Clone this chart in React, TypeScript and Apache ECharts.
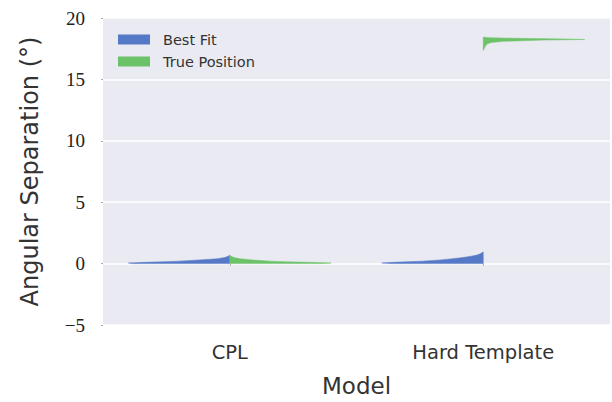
import React, { useEffect, useRef } from "react";
import * as echarts from "echarts";

const categories = ["CPL", "Hard Template"];
const hues = ["Best Fit", "True Position"];
const colors = ["#5579C6", "#6CC268"];

// violin half-profiles: values and normalised density
const cplBestVals = [0, 0.05, 0.1, 0.15, 0.2, 0.3, 0.4, 0.5, 0.55, 0.6, 0.7];
const cplBestDens = [0.95, 1.0, 0.85, 0.65, 0.5, 0.3, 0.12, 0.05, 0.03, 0.015, 0];
const cplTrueVals = [0, 0.05, 0.1, 0.15, 0.2, 0.3, 0.4, 0.5, 0.6, 0.65];
const cplTrueDens = [0.9, 1.0, 0.8, 0.55, 0.4, 0.22, 0.1, 0.04, 0.015, 0];
const htBestVals = [0, 0.05, 0.1, 0.2, 0.3, 0.4, 0.5, 0.6, 0.7, 0.8, 0.9, 0.95];
const htBestDens = [0.9, 1.0, 0.9, 0.6, 0.42, 0.3, 0.2, 0.12, 0.06, 0.03, 0.01, 0];
const htTrueVals = [17.36, 17.5, 17.7, 17.9, 18.0, 18.1, 18.2, 18.25, 18.3, 18.35, 18.4, 18.45];
const htTrueDens = [0, 0.01, 0.02, 0.04, 0.08, 0.2, 0.6, 1.0, 0.8, 0.3, 0.05, 0];

const profiles = [
  { vals: cplBestVals, dens: cplBestDens },
  { vals: cplTrueVals, dens: cplTrueDens },
  { vals: htBestVals, dens: htBestDens },
  { vals: htTrueVals, dens: htTrueDens },
];

// [category index, profile index]
const bestFitData = [[0, 0], [1, 2]];
const truePosData = [[0, 1], [1, 3]];

const yTicks = { min: -5, max: 20, interval: 5 };

function makeRender(side: number, color: string) {
  return (params: any, api: any) => {
    const cat = api.value(0);
    const p = profiles[api.value(1)];
    const band = api.size([1, 0])[0];
    const half = band * 0.4;
    const cx = api.coord([cat, 0])[0];
    const maxD = Math.max(...p.dens);
    const pts: number[][] = [];
    pts.push([cx, api.coord([cat, p.vals[0]])[1]]);
    for (let i = 0; i < p.vals.length; i++) {
      pts.push([cx + (side * half * p.dens[i]) / maxD, api.coord([cat, p.vals[i]])[1]]);
    }
    pts.push([cx, api.coord([cat, p.vals[p.vals.length - 1]])[1]]);
    return {
      type: "polygon",
      shape: { points: pts, smooth: 0 },
      style: { fill: color, stroke: color, lineWidth: 0.5 },
    };
  };
}

export default function App() {
  const ref = useRef<HTMLDivElement>(null);
  useEffect(() => {
    if (!ref.current) return;
    const chart = echarts.init(ref.current, undefined, { renderer: "svg" });
    const sans = "DejaVu Sans";
    chart.setOption({
      animation: false,
      grid: { left: 103, right: 2, top: 18, bottom: 72, show: true, backgroundColor: "#EAEAF2", borderWidth: 0 },
      legend: {
        data: hues,
        left: 113,
        top: 27,
        orient: "vertical",
        icon: "rect",
        itemWidth: 32,
        itemHeight: 10,
        itemGap: 7,
        textStyle: { fontFamily: sans, fontSize: 14.5, color: "#333", padding: [0, 0, 0, 8] },
      },
      xAxis: {
        type: "category",
        data: categories,
        name: "Model",
        nameLocation: "middle",
        nameGap: 49,
        nameTextStyle: { fontFamily: sans, fontSize: 23, color: "#333" },
        axisLine: { show: false },
        axisTick: { show: true, alignWithLabel: true, length: 2, lineStyle: { color: "#aaa" } },
        axisLabel: { fontFamily: sans, fontSize: 19.5, color: "#333", margin: 17 },
        splitLine: { show: false },
      },
      yAxis: {
        type: "value",
        min: yTicks.min,
        max: yTicks.max,
        interval: yTicks.interval,
        name: "Angular Separation (°)",
        nameLocation: "middle",
        nameGap: 61,
        nameTextStyle: { fontFamily: sans, fontSize: 24, color: "#333" },
        axisLine: { show: false },
        axisTick: { show: true, length: 2, lineStyle: { color: "#aaa" } },
        axisLabel: {
          fontFamily: "Liberation Serif",
          fontSize: 19,
          color: "#222",
          margin: 18,
          formatter: (v: number) => String(v).replace("-", "\u2212"),
        },
        splitLine: { show: true, lineStyle: { color: "#ffffff", width: 1.5 } },
      },
      series: [
        { type: "custom", name: hues[0], data: bestFitData, renderItem: makeRender(-1, colors[0]), itemStyle: { color: colors[0] } },
        { type: "custom", name: hues[1], data: truePosData, renderItem: makeRender(1, colors[1]), itemStyle: { color: colors[1] } },
      ],
    });
    return () => chart.dispose();
  }, []);
  return <div ref={ref} style={{ position: "absolute", left: 0, top: 0, width: 612, height: 402 }} />;
}
